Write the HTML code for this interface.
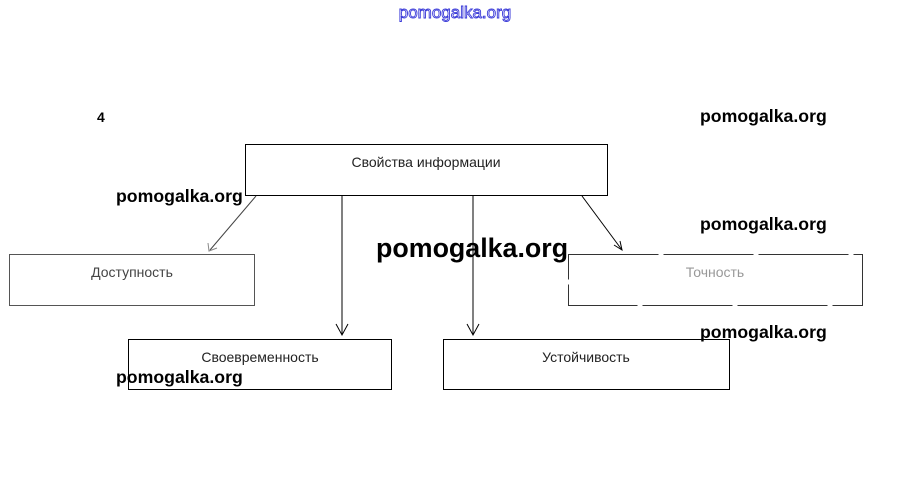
<!DOCTYPE html>
<html><head><meta charset="utf-8"><style>
html,body{margin:0;padding:0;background:#fff;width:908px;height:498px;overflow:hidden}
svg{display:block}
</style></head><body>
<svg width="908" height="498" xmlns="http://www.w3.org/2000/svg" font-family="Liberation Sans, DejaVu Sans, sans-serif">
<text x="455" y="18" text-anchor="middle" font-size="17" fill="#fff" stroke="#3a3ad8" stroke-width="0.9">pomogalka.org</text>
<text x="97" y="122" font-size="14" font-weight="bold">4</text>
<g font-weight="bold" font-size="17.7" fill="#000">
<text x="700" y="122">pomogalka.org</text>
<text x="116" y="202">pomogalka.org</text>
<text x="700" y="230">pomogalka.org</text>
<text x="700" y="338">pomogalka.org</text>
<text x="116" y="383">pomogalka.org</text>
<text x="376" y="257" font-size="26.8">pomogalka.org</text>
</g>
<g fill="none" stroke="#000" stroke-width="1">
<rect x="245.5" y="144.5" width="362" height="51"/>
<rect x="9.5" y="254.5" width="245" height="51" stroke="#555"/>
<rect x="568.5" y="254.5" width="294" height="51" stroke="#333" stroke-dasharray="90,5"/>
<rect x="128.5" y="339.5" width="263" height="50"/>
<rect x="443.5" y="339.5" width="286" height="50"/>
<line x1="256" y1="196" x2="210" y2="250" stroke="#444"/>
<polyline points="208,243 209,251 217,248" stroke="#888"/>
<line x1="342" y1="196" x2="342" y2="335"/>
<polyline points="336,324 342,335 348,324"/>
<line x1="473" y1="196" x2="473" y2="335"/>
<polyline points="467,324 473,335 479,324"/>
<line x1="582" y1="196" x2="622" y2="250"/>
<polyline points="614,245 622,250 620,241"/>
</g>
<g font-size="14" text-anchor="middle" fill="#222">
<text x="426" y="167">Свойства информации</text>
<text x="132" y="277" fill="#444">Доступность</text>
<text x="715" y="277" fill="#999">Точность</text>
<text x="260" y="362">Своевременность</text>
<text x="586" y="362">Устойчивость</text>
</g>
</svg>
</body></html>
